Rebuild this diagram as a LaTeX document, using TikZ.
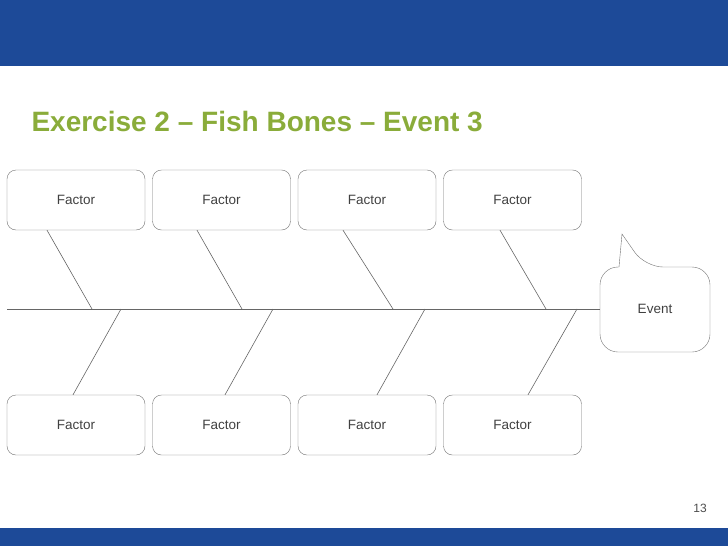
\documentclass[tikz,border=0pt]{standalone}
\usepackage{fontspec}
\setmainfont{Liberation Sans}
\usetikzlibrary{positioning}
\definecolor{barblue}{RGB}{29,74,152}
\definecolor{titlegreen}{RGB}{138,172,58}
\tikzset{
factor/.style={rectangle,draw=black!55,rounded corners=9pt,
minimum width=138pt,minimum height=60pt,font=\fontsize{13.5}{16}\selectfont,
text=black!75},
bone/.style={draw=black!60,line width=0.6pt},
}
\begin{document}
\begin{tikzpicture}[x=1pt,y=-1pt]
\useasboundingbox (0,0) rectangle (728,546);
\fill[barblue] (0,0) rectangle (728,66);
\fill[barblue] (0,528) rectangle (728,546);
\node (title)[anchor=west,text=titlegreen,font=\bfseries\fontsize{28}{32}\selectfont] at (28,122) {Exercise 2 -- Fish Bones -- Event 3};
\node (pg)[font=\fontsize{12}{14}\selectfont,text=black!70] at (700,508) {13};
% top row
\foreach \x/\n in {76/t1,221.5/t2,367/t3,512.5/t4}
  \node (\n)[factor] at (\x,200) {Factor};
% bottom row
\foreach \x/\n in {76/b1,221.5/b2,367/b3,512.5/b4}
  \node (\n)[factor] at (\x,425) {Factor};
% event callout
\node (ev)[minimum width=110pt,minimum height=85pt,font=\fontsize{13.5}{16}\selectfont,text=black!75] at (655,309) {Event};
\draw[draw=black!55,rounded corners=18pt] (619,267) -- (600,267) -- (600,352) -- (710,352) -- (710,267) -- (645,267)
  [sharp corners] -- (622,234) -- (619,267);
\coordinate (sp) at (7,309);
\draw[bone] (sp) -- (ev.west);
% bones
\foreach \n/\d/\s in {t1/-29/92,t2/-24.5/242,t3/-24/393,t4/-12.5/546}
  \draw[bone] ([xshift=\d]\n.south) -- (\s,309);
\foreach \n/\d/\s in {b1/-3/121,b2/3.5/273,b3/10/425,b4/15.5/577}
  \draw[bone] ([xshift=\d]\n.north) -- (\s,309);
\end{tikzpicture}
\end{document}
